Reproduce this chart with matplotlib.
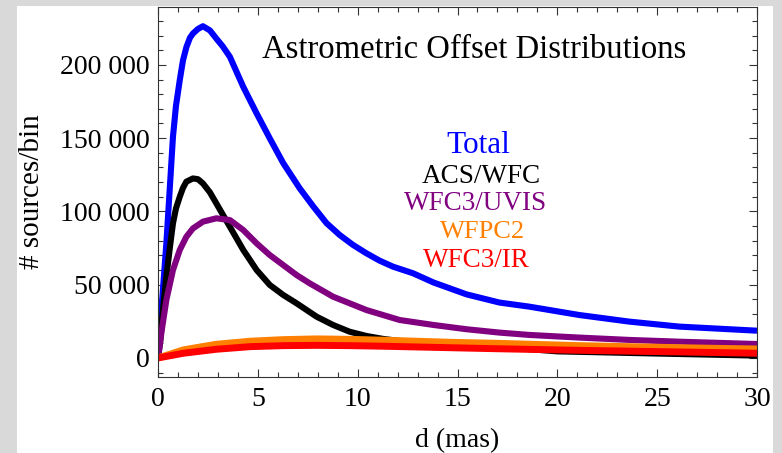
import matplotlib
matplotlib.use("Agg")
import matplotlib.pyplot as plt
from matplotlib.patches import Rectangle
from matplotlib.ticker import MultipleLocator, FuncFormatter

plt.rcParams['font.family'] = ['Liberation Serif', 'DejaVu Serif']

# offset distributions, d in mas vs sources per bin
d_total = [0, 0.2, 0.42, 0.6, 0.75, 0.9, 1.09, 1.25, 1.42, 1.6, 1.75, 2.0, 2.25, 2.6,
           2.92, 3.25, 3.6, 4.27, 4.94, 5.6, 6.27, 7.1, 7.77, 8.44, 9.1, 9.77, 10.44,
           11.1, 11.77, 12.77, 13.8, 15.45, 17.1, 18.6, 21.1, 23.6, 26.1, 30]
n_total = [0, 38000, 78400, 118000, 151000, 172000, 189600, 203000, 212000, 218500,
           221400, 224500, 226400, 223500, 218000, 212500, 205500, 185000, 166900,
           149800, 133000, 115700, 103500, 92000, 83900, 77100, 71400, 66400, 62300,
           57800, 51500, 43400, 37800, 35000, 29300, 24800, 21400, 18600]

d_acs = [0, 0.1, 0.25, 0.42, 0.6, 0.75, 0.9, 1.09, 1.25, 1.42, 1.75, 2.0, 2.25, 2.6,
         2.92, 3.6, 4.27, 4.94, 5.6, 6.27, 6.94, 7.94, 8.77, 9.6, 10.44, 11.27, 12.1,
         14.6, 17, 20, 25, 30]
n_acs = [0, 10000, 33000, 55500, 76000, 91900, 102000, 110000, 116000, 120300, 122500,
         122000, 119100, 113000, 105500, 89500, 73700, 60000, 49800, 43000, 37300,
         28200, 22500, 17900, 15000, 13000, 11600, 10000, 7700, 4500, 3000, 1600]

d_uvis = [0, 0.2, 0.42, 0.75, 1.09, 1.42, 1.75, 2.25, 2.92, 3.6, 4.27, 4.94, 5.6, 6.27,
          6.94, 7.6, 8.77, 10.44, 12.1, 13.8, 15.45, 17.1, 18.6, 21.1, 23.6, 26.1, 30]
n_uvis = [0, 20000, 39600, 60000, 73700, 82700, 88400, 93000, 95300, 94100, 87300,
          78200, 70200, 63400, 56600, 50900, 41800, 32700, 25900, 22500, 19600, 17300,
          15700, 13900, 12300, 11100, 9500]

d_wfpc2 = [0, 1.27, 2.9, 4.6, 6.27, 7.94, 9.6, 11.3, 12.95, 14.6, 16.95, 21.1, 26.1, 30]
n_wfpc2 = [0, 5500, 9300, 11400, 12500, 13000, 12700, 12100, 11400, 10700, 10000, 8400,
           7000, 6100]

d_ir = [0, 1.27, 2.9, 4.6, 6.27, 7.94, 9.6, 11.3, 12.95, 14.6, 16.95, 21.1, 26.1, 30]
n_ir = [0, 3200, 5900, 7700, 8400, 8600, 8400, 8000, 7500, 7000, 6300, 5200, 4100, 3200]

names = ['Total', 'ACS/WFC', 'WFC3/UVIS', 'WFPC2', 'WFC3/IR']
colors = ['#0000ff', '#000000', '#800080', '#ff8000', '#ff0000']
series = [(d_total, n_total), (d_acs, n_acs), (d_uvis, n_uvis),
          (d_wfpc2, n_wfpc2), (d_ir, n_ir)]

fig = plt.figure(figsize=(7.82, 4.53), dpi=100, facecolor='#d9d9d9')
# white card behind the axes
fig.patches.append(Rectangle((17 / 782, 0), 756 / 782, 447 / 453,
                             transform=fig.transFigure, facecolor='white',
                             edgecolor='none', zorder=-10))

ax = fig.add_axes([158 / 782, 76 / 453, 599 / 782, 370 / 453])
ax.set_facecolor('white')

for (x, y), c, lw in zip(series, colors, [4.4, 4.4, 4.4, 5.0, 5.0]):
    ax.plot(x, y, color=c, lw=lw, solid_capstyle='butt', solid_joinstyle='round')

ax.set_xlim(0, 30)
ax.set_ylim(-13000, 239500)
ax.xaxis.set_major_locator(MultipleLocator(5))
ax.xaxis.set_minor_locator(MultipleLocator(1))
ax.yaxis.set_major_locator(MultipleLocator(50000))
ax.yaxis.set_minor_locator(MultipleLocator(10000))


def thousands(v, pos):
    v = int(round(v))
    if abs(v) < 1000:
        return str(v)
    return f"{v // 1000} {v % 1000:03d}"


ax.yaxis.set_major_formatter(FuncFormatter(thousands))
ax.tick_params(which='both', direction='in', top=True, right=True,
               color='#333333', labelsize=20)
ax.tick_params(which='major', length=6, width=0.8)
ax.tick_params(which='minor', length=3.5, width=0.8)
ax.tick_params(axis='x', pad=7)
ax.tick_params(axis='y', pad=6)
for s in ax.spines.values():
    s.set_color('#333333')
    s.set_linewidth(0.8)

ax.set_xlabel('d (mas)', fontsize=20, labelpad=12)
ax.set_ylabel('# sources/bin', fontsize=21, labelpad=11)

ax.text(0.527, 0.885, 'Astrometric Offset Distributions', transform=ax.transAxes,
        ha='center', va='center', fontsize=23.5)

label_pos = [(0.534, 0.627, 22.5), (0.539, 0.543, 19.5), (0.530, 0.470, 19.5),
             (0.541, 0.392, 19), (0.531, 0.316, 19.5)]
for name, c, (lx, ly, fs) in zip(names, colors, label_pos):
    ax.text(lx, ly, name, color=c, transform=ax.transAxes, ha='center',
            va='center', fontsize=fs)

fig.savefig('out.png', dpi=100, facecolor=fig.get_facecolor())
